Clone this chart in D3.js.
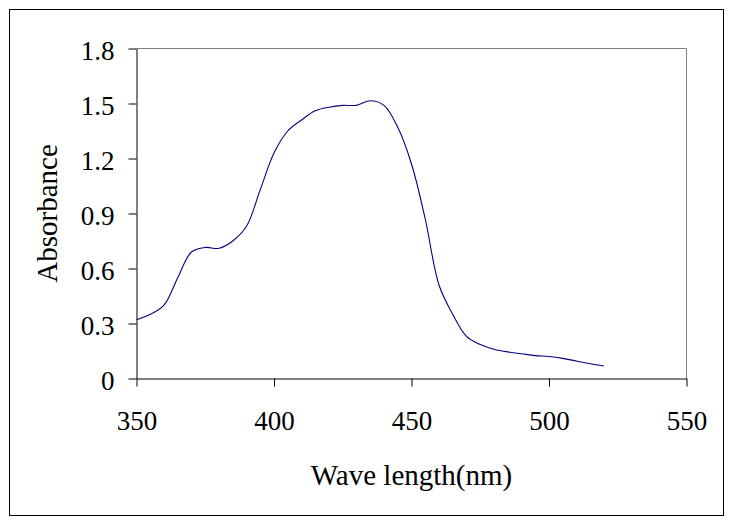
<!DOCTYPE html>
<html>
<head>
<meta charset="utf-8">
<script src="https://cdn.jsdelivr.net/npm/d3@7"></script>
<style>
  html, body { margin: 0; padding: 0; background: #fff; }
  svg { display: block; }
  text { font-family: "Liberation Serif", "Times New Roman", serif; }
</style>
</head>
<body>
<div id="chart"></div>
<script>
// spectrum
const waveLength = [350, 355, 360, 365, 370, 375, 380, 385, 390, 395, 400, 405, 410, 415, 420, 425, 430, 435, 440, 445, 450, 455, 460, 465, 470, 475, 480, 485, 490, 495, 500, 505, 510, 515, 520];
const absorbance = [0.32, 0.35, 0.40, 0.55, 0.69, 0.715, 0.71, 0.75, 0.83, 1.03, 1.23, 1.35, 1.41, 1.46, 1.48, 1.49, 1.49, 1.515, 1.49, 1.37, 1.17, 0.87, 0.51, 0.35, 0.23, 0.185, 0.16, 0.145, 0.135, 0.125, 0.12, 0.11, 0.095, 0.08, 0.068];

const xTicks = [350, 400, 450, 500, 550];
const yTicks = [0, 0.3, 0.6, 0.9, 1.2, 1.5, 1.8];
const xTitle = 'Wave length(nm)';
const yTitle = 'Absorbance';

const width = 734, height = 525;
const plot = { left: 136.5, right: 686.5, top: 48.5, bottom: 378.5 };

const svg = d3.select('#chart')
  .append('svg')
  .attr('width', width)
  .attr('height', height);

// outer frame
svg.append('rect')
  .attr('x', 9.5).attr('y', 9.5)
  .attr('width', 714).attr('height', 506)
  .attr('fill', 'none')
  .attr('stroke', '#000');

const x = d3.scaleLinear().domain([350, 550]).range([plot.left, plot.right]);
const y = d3.scaleLinear().domain([0, 1.8]).range([plot.bottom, plot.top]);

// plot area top/right edges (grey)
svg.append('path')
  .attr('d', `M${plot.left},${plot.top}H${plot.right}V${plot.bottom}`)
  .attr('fill', 'none')
  .attr('stroke', '#808080');

const xAxis = svg.append('g')
  .attr('transform', `translate(0,${plot.bottom})`)
  .call(d3.axisBottom(x).tickValues(xTicks).tickFormat(d3.format('d')).tickSize(8).tickSizeOuter(0).tickPadding(24));

const yAxis = svg.append('g')
  .attr('transform', `translate(${plot.left},0)`)
  .call(d3.axisLeft(y).tickValues(yTicks).tickFormat(d => d === 0 ? '0' : d3.format('.1f')(d)).tickSize(8).tickSizeOuter(0).tickPadding(14));

[xAxis, yAxis].forEach(g => {
  g.select('.domain').attr('stroke', '#000');
  g.selectAll('.tick line').attr('stroke', '#000');
  g.selectAll('.tick text')
    .attr('fill', '#000')
    .style('font-size', '27px')
    .style('font-family', '"Liberation Serif", "Times New Roman", serif');
});
yAxis.selectAll('.tick text').attr('dy', '0.42em');
xAxis.selectAll('.tick text').attr('dy', '0.71em');

// the curve
const line = d3.line()
  .x((d, i) => x(waveLength[i]))
  .y(d => y(d))
  .curve(d3.curveCatmullRom.alpha(0.5));

svg.append('path')
  .datum(absorbance)
  .attr('d', line)
  .attr('fill', 'none')
  .attr('stroke', '#000080')
  .attr('stroke-width', 1.1);

// axis titles
svg.append('text')
  .attr('x', (plot.left + plot.right) / 2)
  .attr('y', 485)
  .attr('text-anchor', 'middle')
  .style('font-size', '29px')
  .text(xTitle);

svg.append('text')
  .attr('transform', `translate(57,${(plot.top + plot.bottom) / 2}) rotate(-90)`)
  .attr('text-anchor', 'middle')
  .style('font-size', '29px')
  .text(yTitle);
</script>
</body>
</html>
